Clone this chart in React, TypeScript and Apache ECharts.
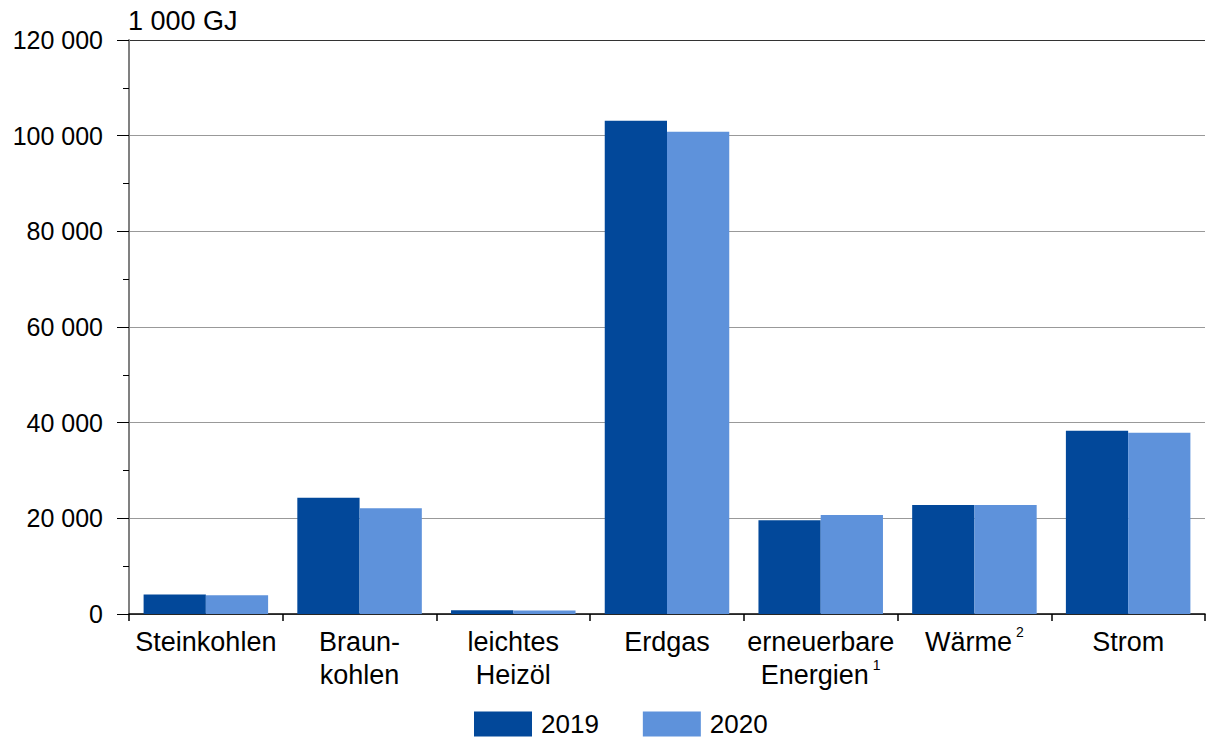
import React, { useEffect, useRef } from "react";
import * as echarts from "echarts";

const categories = ["Steinkohlen", "Braunkohlen", "leichtesHeizöl", "Erdgas", "erneuerbareEnergien", "Wärme", "Strom"];
const categoryLabels = [
  "{a|Steinkohlen}",
  "{a|Braun-}\n{a|kohlen}",
  "{a|leichtes}\n{a|Heizöl}",
  "{a|Erdgas}",
  "{a|erneuerbare}\n{a|Energien}{s|1}",
  "{a|Wärme}{s|2}",
  "{a|Strom}",
];
const seriesNames = ["2019", "2020"];
const values2019 = [4100, 24300, 800, 103100, 19600, 22800, 38300];
const values2020 = [3900, 22100, 750, 100800, 20700, 22800, 37900];
const unitLabel = "1 000 GJ";

const FONT = "Liberation Sans, Arial, sans-serif";

function fmt(v: number): string {
  return String(v).replace(/\B(?=(\d{3})+(?!\d))/g, " ");
}

export default function App() {
  const ref = useRef<HTMLDivElement>(null);
  useEffect(() => {
    if (!ref.current) return;
    const chart = echarts.init(ref.current, null, { renderer: "svg" });
    chart.setOption({
      animation: false,
      textStyle: { fontFamily: FONT },
      grid: { left: 129, right: 1, top: 40, bottom: 126 },
      legend: {
        data: seriesNames,
        top: 711,
        left: 474,
        padding: 0,
        itemWidth: 58,
        itemHeight: 25,
        itemGap: 44,
        icon: "rect",
        textStyle: { fontSize: 26, lineHeight: 25, color: "#000", fontFamily: FONT, padding: [0, 0, 0, 4] },
      },
      graphic: [
        {
          type: "text",
          left: 128,
          top: 7,
          style: { text: unitLabel, fontSize: 27, fill: "#000", fontFamily: FONT },
        },
      ],
      xAxis: {
        type: "category",
        data: categories,
        axisLine: { lineStyle: { color: "#000", width: 1.5 } },
        axisTick: { show: true, length: 7, lineStyle: { color: "#000", width: 1.5 } },
        axisLabel: {
          interval: 0,
          margin: 11,
          formatter: (_v: string, i: number) => categoryLabels[i],
          rich: {
            a: { fontSize: 27, lineHeight: 33, color: "#000", fontFamily: FONT },
            s: { fontSize: 14, lineHeight: 33, color: "#000", fontFamily: FONT, verticalAlign: "top", padding: [0, 0, 0, 4] },
          },
        },
      },
      yAxis: {
        type: "value",
        min: 0,
        max: 120000,
        interval: 20000,
        axisLine: { show: true, lineStyle: { color: "#808080", width: 2 } },
        axisTick: { show: true, length: 12, lineStyle: { color: "#000", width: 1 } },
        minorTick: { show: true, splitNumber: 2, length: 6, lineStyle: { color: "#000", width: 1 } },
        splitLine: {
          show: true,
          lineStyle: { color: ["#999", "#999", "#999", "#999", "#999", "#999", "#333"], width: 1 },
        },
        axisLabel: {
          fontSize: 25,
          color: "#000",
          margin: 26,
          fontFamily: FONT,
          formatter: (v: number) => fmt(v),
        },
      },
      series: [
        {
          name: seriesNames[0],
          type: "bar",
          data: values2019,
          itemStyle: { color: "#02489A" },
          barGap: "0%",
          barCategoryGap: "19%",
        },
        {
          name: seriesNames[1],
          type: "bar",
          data: values2020,
          itemStyle: { color: "#5E92DB" },
          barGap: "0%",
          barCategoryGap: "19%",
        },
      ],
    });
    return () => chart.dispose();
  }, []);
  return (
    <div
      ref={ref}
      style={{ position: "fixed", left: 0, top: 0, width: 1206, height: 740, background: "#fff" }}
    />
  );
}
